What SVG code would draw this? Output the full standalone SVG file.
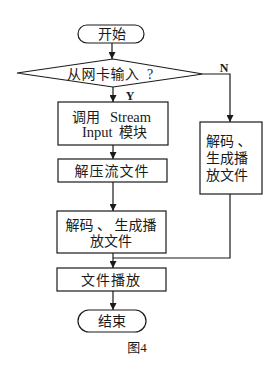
<svg xmlns="http://www.w3.org/2000/svg" width="278" height="366" viewBox="0 0 278 366">
<style>
.s{fill:#fff;stroke:#1a1a1a;stroke-width:1.2}
.c{fill:none;stroke:#1a1a1a;stroke-width:1.2}
text{font-family:"Liberation Serif","Noto Sans CJK SC",serif;font-size:14px;fill:#1a1a1a}
.m{text-anchor:middle}
</style>
<defs>
<marker id="a" viewBox="0 0 8 8" refX="8" refY="4" markerWidth="7" markerHeight="7" markerUnits="userSpaceOnUse" orient="auto">
<path d="M0,0 L8,4 L0,8 z" fill="#1a1a1a"/>
</marker>
</defs>
<g id="connectors">
<line class="c" x1="112" y1="43" x2="112" y2="59" marker-end="url(#a)"/>
<line class="c" x1="113" y1="87" x2="113" y2="102" marker-end="url(#a)"/>
<polyline class="c" points="203,74 230,74 230,122" marker-end="url(#a)"/>
<line class="c" x1="113" y1="145" x2="113" y2="159" marker-end="url(#a)"/>
<line class="c" x1="113" y1="182" x2="113" y2="211" marker-end="url(#a)"/>
<line class="c" x1="113" y1="253" x2="113" y2="268" marker-end="url(#a)"/>
<polyline class="c" points="230,194 230,258 113,258"/>
<line class="c" x1="113" y1="291" x2="113" y2="310" marker-end="url(#a)"/>
<text x="130" y="100" class="m" style="font-size:12px;font-weight:bold">Y</text>
<text x="224" y="72" class="m" style="font-size:12px;font-weight:bold">N</text>
</g>
<g id="start">
<rect class="s" x="78" y="25" width="66" height="18" rx="9"/>
<text x="112" y="39" class="m">开始</text>
</g>
<g id="decision">
<polygon class="s" points="17,73 113,59 203,74 113,87"/>
<text x="67" y="78.5" letter-spacing="0.5">从网卡输入</text>
<text x="150" y="78.5" class="m">?</text>
</g>
<g id="call">
<rect class="s" x="58" y="102" width="110" height="43"/>
<text x="72" y="122">调用</text>
<text x="110" y="122" style="font-size:14.5px">Stream</text>
<text x="82" y="137" style="font-size:14.5px">Input</text>
<text x="119" y="137">模块</text>
</g>
<g id="decompress">
<rect class="s" x="58" y="159" width="109" height="23"/>
<text x="112" y="175.5" class="m" letter-spacing="1">解压流文件</text>
</g>
<g id="decode-left">
<rect class="s" x="57" y="211" width="109" height="42"/>
<text x="111" y="230" class="m">解码 、 生成播</text>
<text x="111" y="246" class="m">放文件</text>
</g>
<g id="decode-right">
<rect class="s" x="200" y="122" width="62" height="72"/>
<text x="206" y="146">解码 、</text>
<text x="206" y="163">生成播</text>
<text x="206" y="180">放文件</text>
</g>
<g id="play">
<rect class="s" x="57" y="268" width="109" height="23"/>
<text x="111" y="284.5" class="m" letter-spacing="1">文件播放</text>
</g>
<g id="end">
<rect class="s" x="78" y="310" width="68" height="22" rx="11"/>
<text x="112" y="326" class="m">结束</text>
</g>
<text x="137" y="352" class="m" style="font-size:13px">图4</text>
</svg>
